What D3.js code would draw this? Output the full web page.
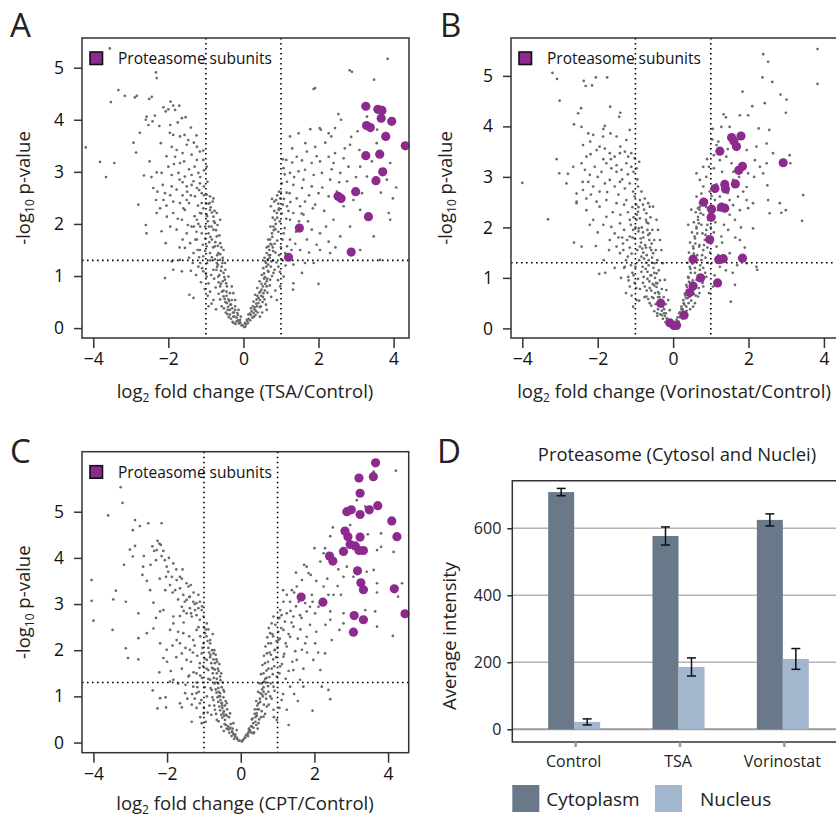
<!DOCTYPE html>
<html>
<head>
<meta charset="utf-8">
<script src="https://cdn.jsdelivr.net/npm/d3@7"></script>
<style>
body { margin: 0; background: #fff; }
svg { font-family: "Open Sans", sans-serif; }
</style>
</head>
<body>
<svg id="fig" width="836" height="818"></svg>
<script>
// ---- volcano data (log2 fold change, -log10 p) ----
var tsaGrey = [
[-4.20,3.47],[-3.56,5.37],[-3.82,3.19],[-3.66,2.90],[-3.44,3.17],[-3.53,4.34],[-3.33,4.57],[-3.16,4.46],[-2.89,4.43],[-2.84,4.46],
[-2.51,4.40],[-2.44,4.44],[-2.33,4.91],[-2.31,4.80],[-2.93,3.56],[-2.86,3.37],[-2.76,3.75],[-2.60,4.00],[-2.53,3.90],[-2.42,3.97],
[-2.58,4.06],[-2.36,4.08],[-2.24,3.88],[-2.13,4.24],[-2.07,4.16],[-2.00,4.20],[-1.94,4.35],[-1.87,4.27],[-1.82,4.19],[-1.71,4.27],
[-1.64,4.03],[-1.54,4.05],[-1.96,3.75],[-1.87,3.71],[-1.69,3.68],[-1.57,3.71],[-1.47,3.61],[-1.32,3.56],[-1.24,3.48],[-1.16,3.39],
[-1.07,3.41],[-1.51,3.52],[-1.91,3.48],[-1.78,3.42],[-1.62,3.36],[-1.38,3.33],[-1.24,3.23],[-1.07,3.23],[-1.82,3.29],[-1.69,3.17],
[-2.00,3.10],[-2.18,2.98],[-2.31,2.99],[-1.91,2.94],[-1.73,2.98],[-1.56,2.91],[-1.38,2.94],[-1.20,2.98],[-1.05,3.03],[-0.98,3.10],
[-2.65,2.93],[-2.40,2.69],[-2.29,2.62],[-2.09,2.59],[-1.91,2.72],[-1.78,2.66],[-1.62,2.80],[-1.51,2.72],[-1.38,2.75],[-1.24,2.69],
[-1.16,2.78],[-1.05,2.72],[-0.96,2.81],[-1.11,2.59],[-0.98,2.56],[-0.89,2.53],[-0.80,2.49],[-1.29,2.53],[-1.51,2.46],[-1.69,2.40],
[-1.87,2.43],[-2.13,2.46],[-2.33,2.46],[-2.80,2.37],[-1.11,2.40],[-0.93,2.39],[-0.82,2.43],
[1.87,4.59],[1.91,4.61],[2.83,4.95],[2.89,4.92],[3.48,4.77],[3.84,5.17],[2.53,4.11],[2.60,4.00],[1.78,3.82],[2.03,3.84],
[2.06,3.81],[1.47,3.74],[1.24,3.68],[2.27,3.74],[2.34,3.68],[2.44,3.84],[2.87,3.67],[3.04,3.78],[3.29,4.06],[3.56,3.81],
[2.18,3.56],[1.91,3.48],[1.69,3.39],[2.84,3.52],[3.09,3.42],[2.44,3.36],[2.67,3.26],[2.27,3.29],[1.05,3.24],[1.14,3.23],
[1.30,3.18],[1.42,3.29],[1.56,3.22],[1.82,3.17],[2.04,3.20],[2.40,3.17],[3.42,3.20],[3.11,3.10],[3.91,3.17],[1.07,3.07],
[1.24,2.98],[1.47,3.01],[1.64,3.04],[1.87,2.94],[2.09,2.98],[2.31,2.85],[2.58,2.98],[2.76,2.82],[3.29,2.91],[3.82,2.85],
[4.07,2.70],[3.98,2.49],[3.66,2.60],[1.02,2.78],[1.16,2.81],[1.33,2.75],[1.56,2.69],[1.82,2.72],[2.00,2.59],[2.27,2.53],
[2.49,2.62],[1.23,2.59],[1.42,2.49],[1.64,2.43],[1.91,2.37],[2.93,2.46],[3.16,2.59],[0.76,2.48],[0.82,2.43],[0.87,2.46],
[0.93,2.39],[0.98,2.49],[1.05,2.37],[1.16,2.34],
[-2.60,1.98],[-2.58,1.82],[-2.18,1.86],[-2.07,1.63],[-2.09,0.96],[-1.87,1.12],[-1.64,1.09],[-1.44,0.64],[-1.33,0.58],[-1.69,1.31],
[-1.91,1.28],[-2.31,2.21],[-2.04,2.14],[-2.22,2.30],[-1.87,2.21],[-1.64,2.08],[-1.56,2.27],[-1.78,1.89],[-1.51,1.82],[-1.38,1.95],
[-1.24,2.08],[-1.16,2.21],[-1.07,2.30],[-0.98,2.18],[-0.89,2.27],[-0.80,2.14],[-0.71,2.21],[-1.42,1.63],[-1.24,1.70],[-1.16,1.50],
[-1.07,1.38],[-1.33,1.44],[-1.56,1.54],[-1.20,1.18],[-1.07,1.09],[-0.98,0.99],[-0.93,0.86],[-0.89,0.70],[-0.80,0.54],[-0.93,0.42],
[-1.02,1.95],[-0.93,1.82],[-0.84,1.70],[-0.76,1.57],[-0.67,1.44],[-0.62,1.31],[-0.58,1.18],[-0.53,1.06],[-0.49,0.93],[-0.44,0.80],
[-0.36,0.67],[-0.31,0.54],[-0.22,0.42],[-0.16,0.29],[-0.09,0.16],[-0.02,0.06],[-0.71,1.76],[-0.80,1.89],[-0.62,1.63],[-0.53,1.50],
[-0.71,1.25],[-0.80,1.12],[-0.67,0.99],[-0.62,0.80],[-0.53,0.61],[-0.44,0.48],[-0.36,0.35],[-0.27,0.22],[-0.18,0.13],[-0.89,1.44],
[-0.98,1.57],[-1.11,1.82],[-0.62,2.08],[-0.76,2.02],[-0.49,1.25],[-0.40,0.99],[-0.31,0.80],[-0.27,0.67],[-0.22,0.54],[-0.13,0.35],
[-0.07,0.22],[0.04,0.10],[0.09,0.16],[0.13,0.26],[0.20,0.38],[0.27,0.51],[0.31,0.64],[0.37,0.77],[0.43,0.90],[0.49,1.02],
[0.53,1.15],[0.58,1.28],[0.62,1.44],[0.67,1.57],[0.71,1.70],[0.76,1.82],[0.80,1.95],[0.84,2.08],[0.89,2.21],[0.73,2.34],
[0.27,0.29],[0.36,0.42],[0.44,0.54],[0.53,0.67],[0.62,0.80],[0.71,0.93],[0.80,1.06],[0.93,1.18],[1.02,1.31],[1.11,1.44],
[1.16,1.57],[1.24,1.70],[1.33,0.86],[1.32,0.74],[1.07,0.99],[0.98,0.80],[0.89,0.54],[0.62,0.35],[0.44,0.22],[1.07,1.82],
[1.24,2.08],[1.33,2.21],[1.51,2.34],[1.60,2.18],[1.69,1.70],[1.82,1.89],[1.51,1.50],[1.64,1.25],[1.56,1.06],[1.33,1.22],
[2.00,0.85],[2.04,1.82],[2.27,1.66],[2.31,1.44],[2.40,2.08],[2.58,1.76],[2.67,2.34],[2.84,1.95],[3.11,2.27],[3.47,1.76],
[3.11,1.50],[3.64,1.31],[3.87,2.21],[3.91,2.08],[2.04,1.50],[1.87,1.25],
[-0.35,0.45],[-0.25,0.30],[0.20,0.25],[0.30,0.40],[-0.45,0.70],[0.45,0.70],[-0.55,0.90],[0.55,0.95],[-0.60,1.10],[0.65,1.10],
[-0.15,0.15],[0.12,0.10],[0.05,0.03],[-0.05,0.05],[-0.70,1.40],[0.70,1.35],[-0.75,1.65],[0.75,1.60],[-0.85,1.95],[0.85,1.90],
[-0.95,2.05],[-1.02,1.72],[-0.88,1.30],[-0.78,0.95],[-0.66,0.66],[-0.58,0.42],[-0.47,0.30],[-0.39,0.21],[-0.29,0.12],[-0.21,0.08],
[-1.15,1.95],[-1.08,1.60],[-0.97,1.25],[-0.86,1.02],[-0.74,0.78],[-0.62,0.55],[-0.52,0.38],[-0.43,0.27],[-0.33,0.18],[-0.26,0.10],
[-1.25,1.85],[-1.18,1.36],[-1.02,1.48],[-0.91,1.65],[-0.84,1.36],[-0.72,1.12],[-0.66,0.88],[-0.57,0.70],[-0.50,0.56],[-0.41,0.41],
[-1.30,2.15],[-1.21,2.35],[-1.00,2.40],[-0.87,2.32],[-0.77,2.25],[-0.69,1.98],[-0.64,1.78],[-0.59,1.55],[-0.55,1.35],[-0.48,1.12],
[-1.35,1.25],[-1.26,1.02],[-1.13,0.88],[-1.03,0.75],[-0.95,0.62],[-0.85,0.47],[-0.73,0.36],[-0.68,1.22],[-0.45,0.62],[-0.38,0.52],
[-1.45,2.40],[-1.60,2.30],[-1.75,2.10],[-1.48,1.98],[-1.62,1.70],[-1.45,1.35],[-1.70,1.55],[-1.95,1.95],[-2.05,2.35],[-1.40,1.10],
[0.18,0.15],[0.24,0.20],[0.33,0.33],[0.40,0.48],[0.47,0.62],[0.52,0.80],[0.57,0.98],[0.61,1.18],[0.65,1.32],[0.69,1.50],
[0.72,1.62],[0.77,1.75],[0.81,1.88],[0.86,2.00],[0.90,2.12],[0.94,2.27],[0.38,0.30],[0.46,0.42],[0.56,0.55],[0.64,0.68],
[0.70,0.82],[0.76,1.00],[0.83,1.12],[0.88,1.26],[0.95,1.40],[1.00,1.55],[1.04,1.70],[1.10,1.92],[1.14,2.10],[1.20,2.25],
[0.50,0.30],[0.60,0.45],[0.74,0.60],[0.85,0.72],[0.92,0.92],[0.97,1.08],[1.12,1.20],[1.18,1.35],[1.28,1.50],[1.38,1.62],
[0.28,0.22],[0.35,0.55],[0.42,0.68],[0.48,0.85],[0.55,1.05],[0.60,1.25],[0.68,1.40],[0.74,1.28],[0.79,1.48],[0.83,1.62],
[1.40,1.85],[1.48,2.05],[1.55,2.20],[1.72,2.05],[1.85,2.30],[2.15,2.25],[1.95,1.60],[1.75,1.45],[2.20,1.95],[2.45,1.55],
[-1.45,3.05],[-1.58,3.20],[-1.30,3.10],[-1.15,2.90],[-1.50,2.62],[-1.70,2.85],[-1.85,3.15],[-2.05,3.30],[-2.20,3.55],[-1.95,3.90],
[-1.75,3.95],[-1.40,3.85],[-1.25,3.70],[-2.15,2.75],[-1.95,2.55],[-1.33,2.82],[-1.18,2.65],[-1.62,2.55],[-2.50,3.20],[-2.45,2.90],
[1.15,2.60],[1.35,2.90],[1.60,2.85],[1.75,2.55],[2.10,2.70],[2.35,3.05],[2.55,2.80],[2.80,3.10],[3.00,2.90],[2.70,3.45],
[1.65,3.55],[1.95,3.30],[1.30,3.45],[1.10,2.95],[0.95,2.62],[0.90,2.55],[1.00,2.60],[1.08,2.48],[1.25,2.42],[3.55,3.55]
];
// the dense V near the origin
var tsaGreyCore = [
[-0.42,0.35],[-0.36,0.26],[-0.30,0.38],[-0.24,0.22],[-0.18,0.20],[-0.12,0.09],[-0.08,0.10],[0.07,0.07],[0.14,0.18],[0.22,0.32],
[0.29,0.36],[0.34,0.47],[0.40,0.58],[0.48,0.74],[0.52,0.60],[0.58,0.85],[0.63,0.95],[0.66,1.22],[0.71,1.40],[0.78,1.55],
[-0.48,0.50],[-0.53,0.72],[-0.60,0.85],[-0.64,1.02],[-0.70,1.18],[-0.76,1.32],[-0.81,1.55],[-0.88,1.75],[-0.92,1.95],[-0.97,2.15],
[-0.40,0.55],[-0.46,0.86],[-0.51,0.98],[-0.56,1.25],[-0.62,1.42],[-0.68,1.58],[-0.73,1.88],[-0.79,2.05],[-0.84,2.22],[-0.90,2.40],
[-1.05,2.55],[-1.12,2.20],[-1.20,2.00],[-1.28,1.70],[-1.15,1.25],[-1.22,1.50],[-1.32,1.95],[-1.40,2.55],[-1.10,1.15],[-1.00,1.05],
[0.32,0.25],[0.44,0.40],[0.51,0.50],[0.57,0.72],[0.62,0.90],[0.67,1.08],[0.73,1.18],[0.79,1.30],[0.85,1.45],[0.90,1.68],
[0.93,1.85],[0.97,2.05],[1.02,2.20],[0.95,2.30],[0.82,2.25],[0.78,2.12],[0.72,1.95],[0.66,1.70],[0.62,1.55],[0.56,1.35],
[-0.33,0.45],[-0.28,0.30],[-0.22,0.35],[-0.15,0.25],[-0.10,0.12],[0.02,0.02],[0.10,0.14],[0.17,0.28],[0.25,0.42],[0.37,0.62]
];
var tsaPurple = [
[3.26,4.26],[3.58,4.20],[3.69,4.18],[3.67,4.03],[3.95,3.97],[3.28,3.89],[3.38,3.85],[3.79,3.68],[4.31,3.50],[3.26,3.31],
[3.63,3.34],[3.71,3.00],[3.53,2.83],[2.99,2.62],[2.52,2.53],[2.60,2.49],[3.33,2.14],[1.49,1.92],[2.87,1.46],[1.20,1.36]
];

var vorGrey = [
[-4.00,2.88],[-3.20,5.06],[-3.08,4.94],[-3.01,4.51],[-3.09,3.35],[-3.02,3.07],[-2.79,3.06],[-2.83,2.87],[-2.63,4.04],[-2.52,4.26],
[-2.44,4.36],[-2.43,3.99],[-2.37,4.90],[-2.32,4.80],[-2.15,4.81],[-2.05,4.97],[-1.75,4.97],[-1.67,4.39],[-1.43,4.19],[-1.40,4.27],
[-1.81,4.01],[-2.39,3.63],[-2.25,3.86],[-2.12,3.83],[-1.86,3.80],[-1.66,3.86],[-1.50,3.80],[-1.24,3.73],[-1.15,3.93],[-2.43,3.27],
[-2.30,3.40],[-2.19,3.45],[-2.03,3.53],[-1.95,3.60],[-1.81,3.56],[-1.68,3.47],[-1.55,3.40],[-1.41,3.47],[-1.28,3.50],[-1.19,3.40],
[-1.11,3.47],[-1.02,3.37],[-2.34,3.14],[-2.21,3.04],[-2.08,3.20],[-1.90,3.10],[-1.77,3.27],[-1.64,3.17],[-1.50,3.23],[-1.37,3.14],
[-1.24,3.27],[-1.11,3.20],[-0.97,3.17],[-2.56,2.67],[-2.39,2.74],[-2.25,2.90],[-2.12,2.81],[-1.95,2.71],[-1.81,2.87],[-1.68,2.94],
[-1.55,2.81],[-1.41,2.90],[-1.28,2.77],[-1.15,2.87],[-1.06,2.71],[-0.93,2.81],[-0.84,2.71],[-2.56,2.51],[-2.30,2.57],[-2.03,2.51],
[-1.77,2.54],[-1.50,2.48],[-1.24,2.54],[-1.02,2.61],[-0.88,2.54],[-0.75,2.57],[-0.66,2.48],[-0.62,2.41],
[2.39,5.43],[2.52,5.28],[3.83,5.53],[3.83,4.84],[2.37,4.97],[2.63,4.88],[1.84,4.69],[2.10,4.40],[2.43,4.46],[2.85,4.63],
[3.01,4.53],[2.99,4.27],[2.55,3.93],[2.27,3.96],[1.99,4.22],[1.77,4.22],[1.34,4.24],[1.40,4.18],[1.28,3.99],[1.50,3.99],
[1.04,3.74],[1.15,3.63],[1.08,3.43],[1.08,3.17],[1.24,3.33],[1.41,3.40],[1.55,3.27],[1.95,3.53],[2.21,3.60],[2.48,3.66],
[2.65,3.47],[2.17,3.33],[2.30,3.20],[2.48,3.27],[3.09,3.43],[3.11,3.27],[2.39,3.07],[1.99,3.07],[1.75,3.00],[1.59,2.94],
[2.50,2.83],[3.45,2.64],[2.52,2.54],[2.12,2.48],[2.83,2.48],[0.62,3.07],[0.71,2.94],[0.88,3.00],[0.80,2.81],[0.97,2.71],
[0.62,2.61],[0.75,2.67],[0.88,2.54],[1.11,2.54],[1.24,2.61],[1.50,2.54],[1.72,2.61],[1.86,2.71],[1.95,2.54],[0.71,2.48],
[0.66,2.38],
[-3.32,2.16],[-2.63,1.70],[-2.43,1.62],[-2.05,1.63],[-1.96,1.08],[-1.84,1.35],[-2.21,2.05],[-2.12,2.15],[-2.30,2.34],[-1.95,2.41],
[-2.56,2.48],[-1.77,2.21],[-1.64,2.01],[-1.55,1.88],[-1.41,2.08],[-1.68,1.75],[-1.50,1.62],[-1.41,1.49],[-1.33,1.68],[-1.28,1.22],
[-1.19,1.02],[-1.15,0.83],[-1.15,1.82],[-1.06,1.95],[-0.97,2.15],[-0.93,2.31],[-0.88,1.62],[-0.84,1.42],[-0.81,1.22],[-0.78,1.02],
[-0.75,0.83],[-0.71,0.63],[-0.62,0.50],[-0.97,0.56],[-1.06,0.43],[-0.71,2.28],[-0.66,2.08],[-0.62,1.88],[-0.57,1.68],[-0.53,1.49],
[-0.49,1.29],[-0.44,1.09],[-0.42,0.89],[-0.37,0.69],[-0.31,0.56],[-0.27,0.43],[-0.19,0.30],[-0.13,0.17],[-0.04,0.07],[-0.53,2.41],
[-0.44,2.15],[-0.40,1.95],[-0.35,1.75],[-0.31,1.55],[-0.27,1.29],[-0.22,0.96],[-0.18,0.76],[-0.13,0.56],[-0.09,0.36],[0.09,0.17],
[0.16,0.30],[0.22,0.43],[0.27,0.56],[0.31,0.69],[0.35,0.86],[0.40,1.02],[0.44,1.22],[0.49,1.42],[0.53,1.62],[0.57,1.82],
[0.62,2.01],[0.66,2.21],[0.71,2.41],[0.35,0.43],[0.44,0.63],[0.53,0.76],[0.62,0.96],[0.71,1.16],[0.75,1.35],[0.80,1.55],
[0.84,1.75],[0.88,1.95],[0.93,2.15],[0.53,0.43],[0.66,0.63],[0.80,0.83],[0.88,1.02],[1.06,0.83],[1.24,1.22],[1.37,1.35],
[1.50,1.49],[1.64,0.86],[1.53,0.53],[1.15,1.62],[1.28,1.82],[1.46,1.95],[1.64,2.15],[1.77,2.34],[1.99,2.38],[2.12,1.98],
[2.21,1.22],[2.23,1.16],[1.95,1.29],[2.56,2.28],[2.87,2.29],[2.99,2.34],[3.42,2.13],[1.77,1.75],[1.06,2.21],[1.19,2.34],
[1.59,2.44],
[-0.30,0.35],[-0.22,0.25],[0.18,0.22],[0.25,0.38],[-0.40,0.62],[0.38,0.60],[-0.50,0.85],[0.45,0.90],[-0.58,1.05],[0.58,1.10],
[-0.12,0.12],[0.10,0.08],[0.04,0.03],[-0.05,0.04],[-0.65,1.35],[0.65,1.35],[-0.72,1.60],[0.70,1.65],[-0.80,1.90],[0.78,1.88],
[-0.98,2.45],[-1.05,2.20],[-0.92,1.92],[-0.85,1.70],[-0.79,1.50],[-0.72,1.30],[-0.68,1.12],[-0.63,0.93],[-0.58,0.75],[-0.52,0.60],
[-0.46,0.48],[-0.40,0.38],[-0.34,0.28],[-0.27,0.19],[-0.20,0.12],[-1.20,2.30],[-1.12,2.05],[-1.02,1.78],[-0.95,1.55],[-0.90,1.35],
[-0.84,1.12],[-0.80,0.90],[-0.70,0.75],[-0.66,0.58],[-0.58,0.45],[-0.50,0.34],[-0.42,0.25],[-1.30,1.95],[-1.22,1.75],[-1.10,1.48],
[-1.00,1.22],[-0.93,0.98],[-0.88,0.78],[-0.76,0.62],[-1.40,2.25],[-1.32,1.55],[-1.25,1.35],[-1.08,1.10],[-1.02,0.90],[-0.90,0.55],
[-0.60,2.20],[-0.55,1.95],[-0.50,1.75],[-0.46,1.55],[-0.42,1.35],[-0.38,1.15],[-0.35,0.95],[-0.30,0.78],[-0.25,0.62],[-0.20,0.48],
[-0.77,2.35],[-0.70,2.10],[-0.66,1.85],[-0.61,1.60],[-0.56,1.40],[-0.52,1.20],[-0.48,1.00],[-0.44,0.82],[-0.36,0.62],[-0.24,0.38],
[-1.60,2.30],[-1.85,2.05],[-1.45,1.80],[-1.70,1.55],[-2.00,1.90],[-1.55,1.20],[-1.38,1.00],[-1.80,1.10],[-1.25,0.70],[-1.10,0.65],
[0.14,0.14],[0.20,0.24],[0.26,0.35],[0.30,0.47],[0.34,0.60],[0.38,0.75],[0.42,0.92],[0.47,1.10],[0.51,1.28],[0.55,1.48],
[0.59,1.68],[0.64,1.88],[0.68,2.08],[0.73,2.28],[0.25,0.20],[0.33,0.30],[0.41,0.50],[0.48,0.55],[0.55,0.68],[0.60,0.85],
[0.66,1.05],[0.72,1.25],[0.77,1.45],[0.82,1.65],[0.86,1.85],[0.91,2.05],[0.95,2.25],[0.45,0.38],[0.58,0.50],[0.70,0.70],
[0.78,0.90],[0.85,1.10],[0.92,1.30],[0.98,1.50],[1.03,1.70],[1.08,1.90],[1.12,2.10],[0.38,1.30],[0.42,1.50],[0.45,1.70],
[0.50,1.90],[0.55,2.10],[0.60,2.30],[0.40,2.05],[0.48,2.35],[0.95,0.70],[1.10,1.05],[1.20,1.45],[1.30,1.70],[1.40,1.15],
[1.35,2.05],[1.50,2.25],[1.65,1.80],[1.80,2.00],[1.90,1.60],[1.58,1.10],[1.70,1.25],[1.02,2.62],[1.15,2.85],[1.30,3.10],
[0.95,3.20],[1.20,3.70],[1.05,3.95],[0.90,3.35],[1.45,3.55],[1.60,3.10],[1.95,2.80],[2.15,3.00],[1.45,2.68],[0.80,3.20],
[-1.20,3.05],[-1.35,2.95],[-1.50,3.10],[-1.65,3.35],[-1.85,3.35],[-2.00,3.00],[-2.18,2.65],[-1.75,2.70],[-1.45,2.65],[-1.30,2.45],
[-0.95,2.95],[-1.05,3.10],[-0.90,3.30],[-1.85,3.95],[-2.20,3.70],[-1.40,3.60],[-2.40,2.90],[-2.65,3.20]
];
var vorGreyCore = [
[-0.42,0.30],[-0.35,0.45],[-0.30,0.26],[-0.24,0.30],[-0.17,0.20],[-0.10,0.08],[-0.02,0.03],[0.06,0.10],[0.12,0.22],[0.18,0.32],
[-0.48,0.70],[-0.54,0.88],[-0.60,1.05],[-0.65,1.25],[-0.70,1.45],[-0.74,1.65],[-0.79,1.80],[-0.83,2.00],[-0.88,2.18],[-0.92,2.40],
[-0.56,0.62],[-0.62,0.80],[-0.68,0.98],[-0.73,1.18],[-0.77,1.38],[-0.82,1.58],[-0.86,1.78],[-0.91,1.98],[-0.96,2.25],[-1.08,2.40],
[-0.40,0.72],[-0.45,0.90],[-0.50,1.10],[-0.55,1.30],[-0.58,1.55],[-0.63,1.75],[-0.68,1.95],[-0.72,2.15],[-0.80,2.45],[-1.15,2.15],
[-1.00,2.00],[-1.08,1.80],[-1.15,1.60],[-1.20,1.42],[-1.12,1.25],[-1.05,1.05],[-0.98,0.80],[-1.18,0.95],[-1.30,1.20],[-1.35,1.80],
[0.22,0.38],[0.28,0.50],[0.32,0.65],[0.37,0.82],[0.41,1.00],[0.46,1.18],[0.50,1.38],[0.54,1.58],[0.58,1.78],[0.62,1.98],
[0.66,2.15],[0.70,2.35],[0.75,2.05],[0.80,2.25],[0.88,2.40],[0.60,0.65],[0.68,0.80],[0.74,1.00],[0.80,1.20],[0.86,1.40],
[0.91,1.60],[0.95,1.82],[1.00,2.00],[1.05,2.25],[0.52,0.95],[0.58,1.20],[0.64,1.45],[0.69,1.62],[0.36,0.35],[0.42,0.62]
];
var vorPurple = [
[1.24,3.51],[1.55,3.78],[1.61,3.71],[1.80,3.81],[1.68,3.60],[1.84,3.21],[1.74,3.13],[1.37,2.85],[1.39,2.76],[1.65,2.86],
[1.11,2.77],[0.81,2.50],[1.02,2.36],[1.28,2.40],[1.37,2.38],[1.01,2.20],[0.97,1.76],[0.53,1.37],[1.21,1.36],[1.33,1.38],
[1.84,1.39],[0.73,1.00],[0.53,0.84],[0.44,0.71],[1.18,0.90],[-0.33,0.50],[0.29,0.26],[-0.09,0.11],[0.02,0.06],[0.09,0.06],
[2.92,3.28]
];

var cptGrey = [
[-4.05,3.52],[-4.05,3.07],[-3.60,4.92],[-3.26,5.53],[-3.21,5.19],[-3.17,3.85],[-3.46,3.10],[-3.39,3.29],[-3.12,3.05],[-3.01,4.18],
[-2.93,4.03],[-2.93,4.60],[-2.87,4.26],[-2.87,4.82],[-2.74,4.69],[-2.51,4.75],[-2.15,4.75],[-2.63,4.04],[-2.65,3.81],[-2.67,3.63],
[-2.45,3.85],[-2.46,3.30],[-2.37,3.03],[-2.26,4.37],[-2.21,4.31],[-2.28,4.17],[-2.17,4.28],[-2.35,4.15],[-2.15,4.04],[-2.06,3.95],
[-2.01,3.81],[-1.97,3.70],[-1.87,3.59],[-1.83,3.88],[-1.74,3.52],[-1.65,3.59],[-1.58,3.75],[-2.03,3.59],[-1.92,3.41],[-1.78,3.30],
[-1.65,3.34],[-1.47,3.45],[-1.42,3.38],[-1.36,3.41],[-1.56,3.20],[-1.47,3.09],[-1.38,3.16],[-1.29,3.05],[-1.20,3.02],[-1.11,3.05],
[-1.15,2.91],[-1.06,2.87],[-1.24,2.87],[-1.38,2.91],[-1.60,2.94],[-2.10,2.87],[-2.19,2.84],[-1.83,2.73],[-1.65,2.74],[-1.47,2.80],
[-1.33,2.73],[-1.20,2.76],[-1.01,2.73],[-2.78,2.80],
[4.21,5.89],[3.61,5.87],[3.15,5.25],[3.38,5.11],[3.45,4.51],[3.70,4.17],[3.81,4.24],[4.15,4.13],[3.81,4.53],[2.97,4.71],
[2.50,4.66],[2.29,4.21],[2.43,4.47],[2.25,4.10],[2.00,4.21],[2.16,3.92],[2.52,3.88],[2.65,3.75],[2.79,3.59],[2.88,3.81],
[3.06,3.59],[3.42,3.70],[3.61,3.74],[3.70,3.45],[3.70,3.25],[4.38,3.45],[4.27,3.16],[2.63,3.39],[2.52,3.20],[2.72,3.20],
[2.38,3.20],[2.25,3.38],[1.93,3.20],[1.50,3.68],[1.72,3.85],[1.79,3.81],[1.84,3.67],[1.90,3.63],[1.66,3.52],[1.52,3.38],
[1.39,3.30],[1.25,3.20],[1.16,3.05],[1.34,3.05],[1.57,3.05],[1.75,3.02],[1.88,2.94],[2.02,2.80],[2.11,2.94],[2.43,2.84],
[2.79,2.80],[3.38,2.87],[3.65,2.84],[1.07,2.87],[1.25,2.80],[1.43,2.73],[1.61,2.76],[1.79,2.84],[1.02,2.69],[1.11,2.76],
[-4.00,2.64],[-3.48,2.44],[-3.12,2.04],[-3.06,1.83],[-2.78,1.80],[-2.78,2.26],[-2.55,2.37],[-2.37,2.47],[-2.21,1.52],[-2.39,1.13],
[-2.26,0.74],[-2.19,0.96],[-2.03,0.76],[-2.04,0.98],[-1.92,1.32],[-1.83,1.36],[-1.70,1.28],[-1.65,0.85],[-1.60,0.76],[-1.51,1.07],
[-1.33,0.82],[-1.33,0.45],[-2.19,2.15],[-2.10,1.83],[-2.01,2.01],[-1.92,2.44],[-1.83,2.58],[-1.74,2.22],[-1.65,2.15],[-1.56,2.37],
[-1.60,1.93],[-1.47,1.79],[-1.38,2.01],[-1.29,2.22],[-1.20,2.44],[-1.11,2.66],[-1.42,1.43],[-1.29,1.21],[-1.20,1.50],[-1.11,1.72],
[-1.06,1.93],[-1.01,2.15],[-0.97,2.37],[-0.92,2.58],[-1.20,1.07],[-1.11,0.85],[-1.01,0.63],[-1.06,0.42],[-0.92,1.79],[-0.88,1.57],
[-0.83,1.36],[-0.79,1.14],[-0.74,0.92],[-0.70,0.71],[-0.65,0.49],[-0.83,2.15],[-0.74,1.93],[-0.70,1.72],[-0.65,1.50],[-0.61,1.28],
[-0.56,1.07],[-0.52,0.85],[-0.47,0.63],[-0.43,0.49],[-0.34,0.35],[-0.24,0.24],[-0.15,0.13],[-0.06,0.04],[-0.56,1.43],[-0.47,1.14],
[-0.38,0.85],[-0.29,0.63],[-0.20,0.42],[-0.11,0.27],[0.07,0.06],[0.16,0.17],[0.25,0.27],[0.34,0.42],[0.43,0.63],[0.48,0.85],
[0.53,1.07],[0.57,1.28],[0.62,1.50],[0.66,1.72],[0.71,1.93],[0.75,2.15],[0.80,2.37],[0.84,2.58],[0.89,2.73],[0.34,0.20],
[0.48,0.42],[0.62,0.56],[0.71,0.78],[0.80,1.00],[0.89,1.21],[0.98,1.43],[1.07,1.65],[1.16,1.86],[1.25,2.08],[1.34,2.29],
[1.43,2.51],[0.93,2.01],[1.02,2.22],[1.16,2.44],[1.11,0.92],[1.25,0.71],[1.30,0.38],[0.98,0.49],[0.89,0.71],[1.34,1.21],
[1.43,1.57],[1.52,1.79],[1.61,1.36],[1.70,1.21],[1.66,2.01],[1.79,2.29],[1.88,2.55],[2.02,2.15],[1.97,1.79],[1.95,0.69],
[2.16,1.57],[2.20,1.21],[2.38,1.14],[2.43,0.94],[2.29,1.93],[2.47,2.22],[2.68,2.44],[2.79,2.58],[3.70,2.51],[4.13,2.31],
[2.43,2.66],
[-0.30,0.30],[-0.20,0.18],[0.20,0.20],[0.30,0.35],[-0.40,0.60],[0.40,0.55],[-0.50,0.80],[0.45,0.80],[-0.60,1.00],[0.60,1.00],
[-0.10,0.08],[0.10,0.10],[0.03,0.02],[-0.03,0.04],[-0.68,1.30],[0.68,1.30],[-0.75,1.60],[0.75,1.60],[-0.82,1.90],[0.82,1.90],
[-0.95,2.45],[-0.90,2.20],[-0.86,1.95],[-0.80,1.72],[-0.76,1.50],[-0.71,1.28],[-0.66,1.08],[-0.61,0.88],[-0.56,0.70],[-0.50,0.54],
[-0.44,0.40],[-0.38,0.30],[-0.31,0.21],[-0.25,0.14],[-0.18,0.08],[-1.10,2.30],[-1.04,2.05],[-0.98,1.82],[-0.93,1.60],[-0.88,1.38],
[-0.82,1.18],[-0.77,0.98],[-0.72,0.80],[-0.67,0.62],[-0.60,0.46],[-0.53,0.34],[-0.46,0.25],[-1.25,2.10],[-1.18,1.88],[-1.12,1.62],
[-1.05,1.40],[-0.98,1.20],[-0.92,1.00],[-0.85,0.80],[-0.80,0.60],[-1.35,1.75],[-1.28,1.52],[-1.20,1.30],[-1.14,1.10],[-1.07,0.92],
[-0.58,1.70],[-0.53,1.50],[-0.49,1.30],[-0.45,1.10],[-0.41,0.90],[-0.37,0.72],[-0.32,0.55],[-0.27,0.40],[-0.22,0.30],[-0.15,0.18],
[-0.72,2.00],[-0.66,1.80],[-0.62,1.60],[-0.60,1.10],[-0.55,0.92],[-0.50,0.75],[-0.45,0.58],[-1.40,2.30],[-1.50,2.05],[-1.60,1.60],
[-1.75,1.85],[-1.85,2.10],[-1.70,2.40],[-1.55,2.60],[-1.90,1.55],[-2.00,1.75],[-1.45,0.95],[-1.20,0.75],[-1.10,0.55],[-0.95,0.45],
[0.12,0.10],[0.20,0.14],[0.28,0.22],[0.35,0.32],[0.40,0.45],[0.44,0.58],[0.49,0.72],[0.53,0.88],[0.58,1.04],[0.62,1.20],
[0.66,1.38],[0.70,1.56],[0.74,1.75],[0.78,1.95],[0.82,2.15],[0.86,2.35],[0.22,0.30],[0.30,0.50],[0.38,0.62],[0.45,0.72],
[0.52,0.95],[0.58,1.15],[0.64,1.32],[0.68,1.05],[0.74,1.22],[0.78,1.42],[0.84,1.60],[0.88,1.80],[0.92,2.00],[0.97,2.20],
[1.02,2.40],[0.55,0.55],[0.66,0.62],[0.76,0.82],[0.84,0.95],[0.92,1.12],[1.00,1.30],[1.05,1.50],[1.12,1.70],[1.18,1.92],
[1.22,2.15],[1.30,2.35],[1.38,2.60],[0.90,0.55],[1.05,0.75],[1.15,1.05],[1.22,1.38],[1.30,1.55],[1.40,1.75],[1.48,1.98],
[1.55,2.25],[1.62,2.45],[1.70,1.60],[1.80,1.95],[1.45,1.05],[1.55,0.90],[1.75,2.15],[2.05,2.40],[2.10,1.95],[2.30,2.55],
[1.05,2.70],[1.20,2.62],[1.35,2.85],[1.50,2.95],[1.65,2.70],[1.95,3.05],[2.05,3.50],[2.35,3.55],[1.15,3.30],[1.45,3.25],
[-1.05,2.95],[-1.15,3.20],[-1.28,3.25],[-1.40,3.15],[-1.52,3.05],[-1.70,3.10],[-1.85,3.25],[-2.05,3.30],[-2.20,3.55],[-2.30,3.95],
[-2.40,4.25],[-2.10,4.15],[-1.95,4.00],[-1.75,3.75],[-1.60,3.55],[-1.25,3.00],[-1.35,2.80],[-1.55,2.85],[-2.30,2.70],[-2.55,3.50]
];
var cptGreyCore = [
[-0.40,0.38],[-0.34,0.28],[-0.28,0.32],[-0.22,0.22],[-0.16,0.15],[-0.10,0.10],[0.05,0.05],[0.14,0.15],[0.22,0.24],[0.28,0.35],
[-0.46,0.68],[-0.51,0.86],[-0.56,1.00],[-0.61,1.18],[-0.65,1.38],[-0.70,1.58],[-0.74,1.80],[-0.78,2.00],[-0.83,2.22],[-0.88,2.45],
[-0.53,0.60],[-0.58,0.78],[-0.63,0.98],[-0.68,1.15],[-0.73,1.40],[-0.78,1.62],[-0.83,1.85],[-0.88,2.05],[-0.93,2.30],[-1.00,2.50],
[-0.38,0.58],[-0.43,0.80],[-0.47,0.98],[-0.52,1.20],[-0.55,1.35],[-0.60,1.55],[-0.64,1.75],[-0.68,1.90],[-0.76,2.35],[-1.15,2.50],
[-1.02,1.65],[-1.10,1.45],[-1.18,1.20],[-1.25,0.95],[-1.00,0.75],[-0.90,0.65],[-1.30,1.95],[-1.40,1.45],[-1.50,1.25],[-1.32,1.05],
[0.32,0.52],[0.38,0.72],[0.42,0.90],[0.47,1.10],[0.51,1.28],[0.55,1.48],[0.59,1.68],[0.63,1.88],[0.67,2.08],[0.72,2.28],
[0.76,2.48],[0.42,0.38],[0.50,0.50],[0.57,0.68],[0.63,0.82],[0.69,0.95],[0.75,1.10],[0.81,1.28],[0.87,1.48],[0.91,1.65],
[0.96,1.85],[1.00,2.05],[1.06,2.25],[1.10,2.48],[0.94,2.55],[0.88,2.30],[0.70,1.40],[0.62,1.10],[0.46,0.30],[0.36,0.22]
];
var cptPurple = [
[3.66,6.06],[3.21,5.73],[3.60,5.76],[3.24,5.40],[3.72,5.13],[3.49,5.04],[2.88,5.00],[3.00,5.04],[3.24,4.94],[4.10,4.80],
[2.83,4.58],[2.91,4.46],[3.24,4.45],[4.24,4.46],[2.97,4.29],[3.11,4.26],[2.79,4.14],[3.21,4.16],[3.33,4.16],[2.41,4.04],
[2.50,3.93],[3.17,3.72],[3.26,3.46],[3.33,3.31],[4.17,3.33],[1.64,3.15],[2.23,3.04],[3.08,2.75],[3.33,2.66],[4.46,2.79],
[3.06,2.39]
];

var xTicks = [-4, -2, 0, 2, 4];
var yTicksA = [0, 1, 2, 3, 4, 5];
var yTicksC = [0, 1, 2, 3, 4, 5];
var fcCut = 1, pCut = 1.3;

// ---- bar chart data (panel D) ----
var groups = ["Control", "TSA", "Vorinostat"];
var compartments = ["Cytoplasm", "Nucleus"];
var cytoMean = [708, 577, 625];
var cytoErr = [11, 27, 18];
var nucMean = [22, 186, 210];
var nucErr = [9, 27, 31];
var barTicks = [0, 200, 400, 600];

var purple = "#8c2a8e", grey = "#6a6a6a", ink = "#333";
var svg = d3.select("#fig");

function volcano(o) {
    var x = d3.scaleLinear().domain(o.xDom).range([o.l, o.r]);
    var y = d3.scaleLinear().domain(o.yDom).range([o.b, o.t]);
    var g = svg.append("g");

    g.selectAll(".gp").data(o.grey).enter().append("circle")
        .attr("cx", function(d) { return x(d[0]); })
        .attr("cy", function(d) { return y(d[1]); })
        .attr("r", 1.35).attr("fill", grey);

    // cut-off lines
    [-fcCut, fcCut].forEach(function(v) {
        g.append("line").attr("x1", x(v)).attr("x2", x(v)).attr("y1", o.t).attr("y2", o.b)
            .attr("stroke", "#000").attr("stroke-width", 1.6).attr("stroke-dasharray", "1.6,3.4");
    });
    g.append("line").attr("x1", o.l).attr("x2", o.r).attr("y1", y(pCut)).attr("y2", y(pCut))
        .attr("stroke", "#000").attr("stroke-width", 1.6).attr("stroke-dasharray", "1.6,3.4");

    g.selectAll(".pp").data(o.purple).enter().append("circle")
        .attr("cx", function(d) { return x(d[0]); })
        .attr("cy", function(d) { return y(d[1]); })
        .attr("r", 4.6).attr("fill", purple);

    g.append("rect").attr("x", o.l).attr("y", o.t).attr("width", o.r - o.l).attr("height", o.b - o.t)
        .attr("fill", "none").attr("stroke", ink).attr("stroke-width", 1.5);

    var xa = g.append("g").attr("transform", "translate(0," + o.b + ")")
        .call(d3.axisBottom(x).tickValues(xTicks).tickSize(10).tickPadding(5).tickFormat(d3.format("d")));
    var ya = g.append("g").attr("transform", "translate(" + o.l + ",0)")
        .call(d3.axisLeft(y).tickValues(o.yTicks).tickSize(8).tickPadding(10).tickFormat(d3.format("d")));
    [xa, ya].forEach(function(a) {
        a.select(".domain").remove();
        a.selectAll("line").attr("stroke", ink).attr("stroke-width", 1.5);
        a.selectAll("text").attr("font-size", 17.5).attr("fill", "#111").attr("font-family", "Open Sans");
    });

    // legend
    g.append("rect").attr("x", o.l + 8).attr("y", o.t + 14).attr("width", 12.5).attr("height", 12.5)
        .attr("fill", purple).attr("stroke", "#111").attr("stroke-width", 1.6);
    g.append("text").attr("x", o.l + 36).attr("y", o.t + 26).attr("font-size", 15.5).attr("fill", "#111")
        .text("Proteasome subunits");

    // axis titles
    var xt = g.append("text").attr("x", o.xlx).attr("y", o.b + o.xly).attr("text-anchor", "middle")
        .attr("font-size", 18.5).attr("fill", "#222");
    xt.append("tspan").text("log");
    xt.append("tspan").attr("font-size", 12).attr("dy", 4).text("2");
    xt.append("tspan").attr("dy", -4).text(" fold change (" + o.ratio + ")");

    var yt = g.append("text").attr("transform", "translate(" + o.ylx + "," + (o.t + o.b) / 2 + ") rotate(-90)")
        .attr("text-anchor", "middle").attr("font-size", 18.5).attr("fill", "#222");
    yt.append("tspan").text("-log");
    yt.append("tspan").attr("font-size", 12).attr("dy", 4).text("10");
    yt.append("tspan").attr("dy", -4).text(" p-value");

    svg.append("text").attr("x", o.lx).attr("y", o.ly).attr("font-size", 33).attr("fill", "#222").text(o.letter);
}

volcano({ grey: tsaGrey.concat(tsaGreyCore), purple: tsaPurple, l: 82, r: 409, t: 38, b: 338, xDom: [-4.3, 4.41], yDom: [-0.19, 5.57],
    yTicks: yTicksA, ratio: "TSA/Control", xlx: 245, xly: 60, ylx: 30, letter: "A", lx: 10, ly: 37 });
volcano({ grey: vorGrey.concat(vorGreyCore), purple: vorPurple, l: 511, r: 839, t: 38, b: 338, xDom: [-4.3, 4.4], yDom: [-0.19, 5.75],
    yTicks: yTicksA, ratio: "Vorinostat/Control", xlx: 674, xly: 60, ylx: 452, letter: "B", lx: 440, ly: 37 });
volcano({ grey: cptGrey.concat(cptGreyCore), purple: cptPurple, l: 82, r: 408.7, t: 451.7, b: 752.7, xDom: [-4.31, 4.56], yDom: [-0.22, 6.3],
    yTicks: yTicksC, ratio: "CPT/Control", xlx: 245, xly: 57, ylx: 30, letter: "C", lx: 10, ly: 463 });

// ---- panel D: bar chart ----
(function() {
    var L = 512.3, R = 845, T = 480.7, B = 742;
    var y = d3.scaleLinear().domain([-38, 742]).range([B, T]);
    var x0 = d3.scaleBand().domain(groups).range([523.5, 836.5]);
    var x1 = d3.scaleBand().domain(compartments).range([-27.5, 24.5]);
    var colors = { Cytoplasm: "#6a7989", Nucleus: "#a2b6cd" };
    var g = svg.append("g");

    g.selectAll(".grid").data(barTicks).enter().append("line")
        .attr("x1", L).attr("x2", R).attr("y1", function(d) { return y(d); }).attr("y2", function(d) { return y(d); })
        .attr("stroke", function(d) { return d === 0 ? "#9a9a9a" : "#b4b4b4"; })
        .attr("stroke-width", function(d) { return d === 0 ? 2 : 1.3; });

    var rows = groups.map(function(grp, i) {
        return [
            { grp: grp, key: "Cytoplasm", v: cytoMean[i], e: cytoErr[i] },
            { grp: grp, key: "Nucleus", v: nucMean[i], e: nucErr[i] }
        ];
    });
    var flat = [].concat.apply([], rows);
    function cx(d) { return x0(d.grp) + x0.bandwidth() / 2 + x1(d.key); }

    g.selectAll(".bar").data(flat).enter().append("rect")
        .attr("x", cx).attr("width", x1.bandwidth())
        .attr("y", function(d) { return y(d.v); })
        .attr("height", function(d) { return y(0) - y(d.v); })
        .attr("fill", function(d) { return colors[d.key]; });

    var eb = g.selectAll(".eb").data(flat).enter().append("g")
        .attr("transform", function(d) { return "translate(" + (cx(d) + x1.bandwidth() / 2) + ",0)"; })
        .attr("stroke", "#111").attr("stroke-width", 1.5);
    eb.append("line").attr("y1", function(d) { return y(d.v - d.e); }).attr("y2", function(d) { return y(d.v + d.e); });
    eb.append("line").attr("x1", -4.5).attr("x2", 4.5).attr("y1", function(d) { return y(d.v - d.e); }).attr("y2", function(d) { return y(d.v - d.e); });
    eb.append("line").attr("x1", -4.5).attr("x2", 4.5).attr("y1", function(d) { return y(d.v + d.e); }).attr("y2", function(d) { return y(d.v + d.e); });

    // frame: left, top, bottom
    g.append("path").attr("d", "M" + R + "," + T + "H" + L + "V" + B + "H" + R)
        .attr("fill", "none").attr("stroke", ink).attr("stroke-width", 1.5);

    var ya = g.append("g").attr("transform", "translate(" + L + ",0)")
        .call(d3.axisLeft(y).tickValues(barTicks).tickSize(5).tickPadding(6));
    ya.select(".domain").remove();
    ya.selectAll("line").attr("stroke", ink).attr("stroke-width", 1.5);
    ya.selectAll("text").attr("font-size", 16).attr("fill", "#222").attr("font-family", "Open Sans");

    var xa = g.append("g").attr("transform", "translate(0," + B + ")")
        .call(d3.axisBottom(x0).tickSize(5).tickPadding(9));
    xa.select(".domain").remove();
    xa.selectAll("line").attr("stroke", "#999").attr("stroke-width", 2.5);
    xa.selectAll("text").attr("font-size", 16).attr("fill", "#222").attr("font-family", "Open Sans").attr("dx", -2);

    svg.append("text").attr("x", 677).attr("y", 461).attr("text-anchor", "middle").attr("font-size", 18.4)
        .attr("fill", "#222").text("Proteasome (Cytosol and Nuclei)");
    svg.append("text").attr("transform", "translate(456," + 636 + ") rotate(-90)")
        .attr("text-anchor", "middle").attr("font-size", 18.5).attr("fill", "#222").text("Average intensity");

    var lg = svg.selectAll(".lg").data(compartments).enter().append("g")
        .attr("transform", function(d, i) { return "translate(" + [512.3, 655][i] + ",785)"; });
    lg.append("rect").attr("width", 27).attr("height", 27).attr("fill", function(d) { return colors[d]; });
    lg.append("text").attr("x", function(d, i) { return [34, 45][i]; }).attr("y", 21).attr("font-size", 19)
        .attr("fill", "#222").text(function(d) { return d; });

    svg.append("text").attr("x", 437).attr("y", 463).attr("font-size", 33).attr("fill", "#222").text("D");
})();
</script>
</body>
</html>
